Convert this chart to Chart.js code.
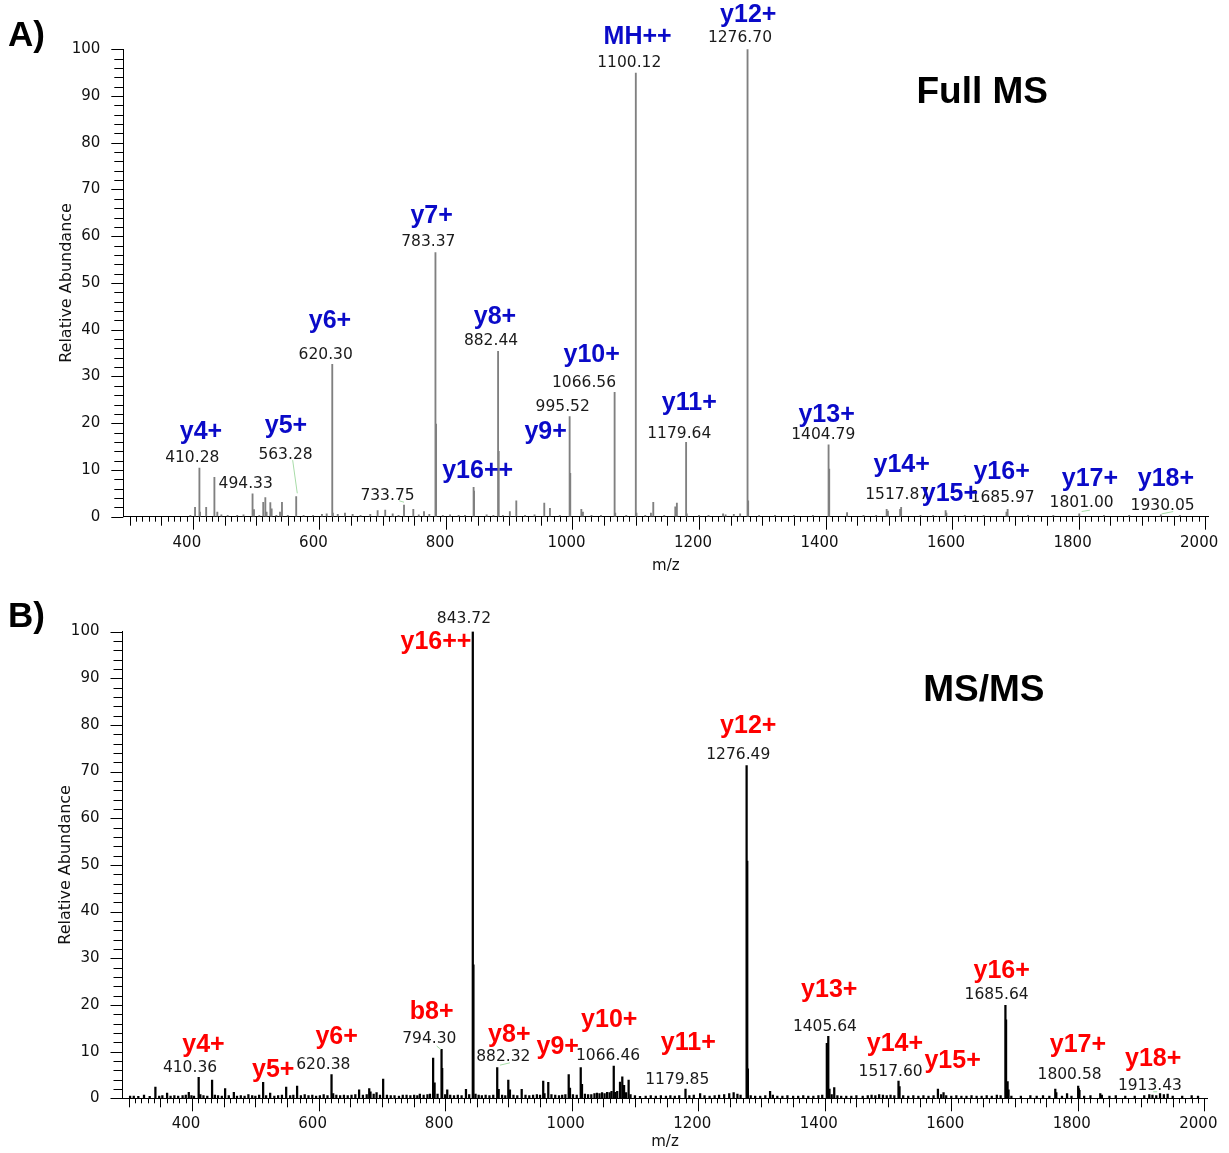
<!DOCTYPE html>
<html>
<head>
<meta charset="utf-8">
<title>Full MS / MS/MS spectra</title>
<script src="https://cdn.jsdelivr.net/npm/chart.js@4.4.1/dist/chart.umd.min.js"></script>
<style>
    html, body { margin: 0; padding: 0; background: #fff; }
    #wrap { position: relative; width: 1229px; height: 1153px; }
    canvas { position: absolute; left: 0; }
    #chartA { top: 0; }
    #chartB { top: 585px; }
</style>
</head>
<body>
<div id="wrap">
    <canvas id="chartA" width="1229" height="585"></canvas>
    <canvas id="chartB" width="1229" height="568"></canvas>
</div>
<script>
// ---- axes ----
const xTickLabels = [400, 600, 800, 1000, 1200, 1400, 1600, 1800, 2000];
const yTickLabels = [0, 10, 20, 30, 40, 50, 60, 70, 80, 90, 100];

// ---- A) Full MS : peaks (m/z, relative abundance) ----
const fullMz = [
    396.0, 403.4, 410.3, 411.3, 421.0, 434.0, 438.6, 445.0, 455.0, 470.0,
    480.0, 494.3, 496.6, 505.0, 511.2, 514.5, 516.5, 522.4, 524.5, 532.0,
    537.7, 540.8, 550.0, 563.3, 575.0, 590.0, 604.0, 611.5, 620.3, 621.3,
    629.0, 640.4, 652.5, 665.0, 680.4, 692.0, 704.0, 715.8, 725.0, 733.7,
    748.4, 757.0, 765.3, 773.7, 783.4, 784.4, 795.0, 806.5, 820.0, 830.0,
    843.7, 844.4, 864.3, 875.0, 882.4, 883.4, 890.0, 901.0, 911.2, 925.0,
    940.0, 955.4, 964.4, 980.0, 995.5, 996.5, 1014.0, 1016.5, 1030.0, 1045.0,
    1066.6, 1067.6, 1085.0, 1100.1, 1101.1, 1115.0, 1124.0, 1127.7, 1145.0, 1162.5,
    1165.0, 1179.6, 1180.6, 1200.0, 1215.0, 1238.0, 1242.0, 1255.0, 1265.0, 1276.7,
    1277.7, 1295.0, 1320.0, 1350.0, 1380.0, 1404.8, 1405.8, 1434.0, 1460.0, 1480.0,
    1496.6, 1498.6, 1517.9, 1519.5, 1550.0, 1570.0, 1589.8, 1591.0, 1620.0, 1650.0,
    1686.0, 1687.8, 1720.0, 1760.0, 1801.0, 1840.0, 1880.0, 1930.0, 1960.0
];
const fullInt = [
    0.3, 2.0, 10.4, 1.0, 2.0, 8.4, 1.0, 0.4, 0.3, 0.3,
    0.4, 4.9, 1.5, 0.3, 3.1, 4.1, 1.0, 3.0, 1.7, 0.3,
    1.0, 3.1, 0.3, 4.3, 0.3, 0.3, 0.5, 0.6, 32.6, 0.8,
    0.5, 0.8, 0.5, 0.3, 0.5, 1.3, 1.4, 0.6, 0.3, 2.5,
    1.6, 0.4, 1.1, 0.5, 56.5, 19.8, 0.3, 0.4, 0.3, 0.3,
    6.3, 5.5, 0.4, 0.3, 35.4, 14.0, 0.3, 1.1, 3.4, 0.3,
    0.4, 2.9, 1.8, 0.3, 21.4, 9.3, 1.6, 1.0, 0.3, 0.3,
    26.6, 0.8, 0.3, 94.9, 0.8, 0.3, 0.8, 3.1, 0.3, 2.1,
    2.9, 15.9, 0.6, 0.3, 0.3, 0.6, 0.4, 0.5, 0.6, 100.0,
    3.4, 0.3, 0.3, 0.3, 0.3, 15.4, 10.2, 0.9, 0.3, 0.3,
    1.6, 1.2, 1.6, 2.0, 0.3, 0.3, 1.3, 0.8, 0.3, 0.3,
    1.0, 1.6, 0.3, 0.3, 0.6, 0.3, 0.3, 0.4, 0.3
];
const fullIons = ['y4+', 'y5+', 'y6+', 'y7+', 'y16++', 'y8+', 'y9+', 'y10+', 'MH++',
    'y11+', 'y12+', 'y13+', 'y14+', 'y15+', 'y16+', 'y17+', 'y18+'];
const fullIonMz = [412.8, 547.2, 616.7, 777.4, 850.1, 877.5, 957.6, 1030.3, 1103.0,
    1184.6, 1277.8, 1401.7, 1520.3, 1596.6, 1678.3, 1817.9, 1938.0];
const fullIonAb = [18.2, 19.3, 41.8, 64.2, 9.7, 42.7, 18.2, 34.5, 102.5,
    24.3, 107.2, 21.7, 11.1, 4.9, 9.5, 8.0, 8.0];
const fullPeakLabels = [410.28, 494.33, 563.28, 620.30, 733.75, 783.37, 882.44, 995.52, 1066.56,
    1100.12, 1179.64, 1276.70, 1404.79, 1517.87, 1685.97, 1801.00, 1930.05];
const fullPeakLabelMz = [399.0, 483.5, 546.4, 609.9, 707.6, 772.1, 871.2, 984.5, 1018.2,
    1089.8, 1168.8, 1264.7, 1396.4, 1513.3, 1679.9, 1804.8, 1932.8];
const fullPeakLabelAb = [12.5, 6.9, 13.3, 34.7, 4.5, 58.8, 37.6, 23.5, 28.5,
    97.1, 17.8, 102.5, 17.4, 4.6, 3.9, 3.0, 2.3];
// green leader lines (start / end)
const fullLeaderMz1 = [557.7, 726.2, 1804.8, 1931.2];
const fullLeaderAb1 = [12.1, 3.4, 1.1, 0.6];
const fullLeaderMz2 = [565.0, 733.7, 1817.9, 1949.5];
const fullLeaderAb2 = [5.0, 3.1, 1.4, 1.1];

// ---- B) MS/MS : peaks (m/z, relative abundance) ----
const msmsMz = [
    302, 307.8, 315, 324, 333, 342, 348, 353, 360.5, 366,
    372, 378, 385, 390, 394.8, 399, 403, 410.4, 413, 418,
    424, 431.6, 436, 441, 447, 452.2, 458, 466, 471, 477,
    483, 489, 495, 500, 506, 512.3, 517, 523.4, 530, 536,
    542, 548.7, 555, 560, 566, 572, 578, 584, 590, 596,
    602, 608, 614, 620.4, 623, 628, 634, 640, 646, 652,
    658, 664, 670, 676, 680, 682, 687, 691.6, 697, 702,
    708, 714, 720, 727, 733, 739, 745, 751, 756, 760,
    766, 772, 776, 781, 783.3, 788, 794.3, 795.3, 800, 803.3,
    808, 814, 820, 826, 832.9, 838, 843.7, 844.7, 848, 853,
    858, 864, 870, 876, 882.3, 884.6, 890, 895, 899.8, 902.4,
    908, 914, 921, 927, 933, 939, 945, 950, 955, 957,
    963, 968, 974, 980, 985, 990, 995.3, 997.3, 1002, 1008,
    1014.3, 1016.3, 1021, 1026, 1031, 1036, 1040, 1044, 1048, 1052,
    1056, 1060, 1063, 1066.5, 1069, 1072, 1076.4, 1080, 1082.8, 1086,
    1090, 1093, 1100, 1108, 1117, 1125, 1133, 1141, 1149, 1156,
    1163, 1170, 1179.9, 1186, 1193, 1203, 1210, 1218, 1226, 1233,
    1241, 1249, 1256, 1262, 1267, 1276.5, 1277.5, 1278.5, 1283, 1290,
    1298, 1306, 1313.6, 1318, 1325, 1333, 1341, 1350, 1358, 1366,
    1374, 1382, 1390, 1396, 1403.3, 1405.6, 1407.5, 1411, 1415, 1420,
    1426, 1434, 1442, 1450, 1460, 1468, 1474, 1480, 1486, 1492,
    1498, 1504, 1510, 1516.6, 1518.2, 1524, 1532, 1540, 1548, 1556,
    1564, 1572, 1578.9, 1584, 1587.8, 1592, 1600, 1608, 1616, 1624,
    1632, 1640, 1648, 1656, 1664, 1672, 1678, 1685.6, 1686.6, 1689,
    1690.5, 1695, 1710, 1725, 1735, 1745, 1755, 1764.4, 1766, 1775,
    1783, 1790, 1800.6, 1801.6, 1802.6, 1810, 1820, 1835.5, 1838, 1850,
    1860, 1875, 1890, 1905, 1913, 1918, 1924, 1930, 1936, 1942,
    1950, 1965, 1980, 1990
];
const msmsInt = [
    0.5, 0.5, 0.4, 0.7, 0.4, 2.4, 0.5, 0.6, 1.1, 0.5,
    0.6, 0.5, 0.6, 0.7, 1.3, 0.6, 0.5, 4.5, 0.8, 0.6,
    0.5, 3.9, 0.7, 0.6, 0.5, 2.1, 0.6, 1.3, 0.5, 0.6,
    0.5, 0.8, 0.6, 0.5, 0.7, 3.4, 0.6, 1.1, 0.5, 0.6,
    0.7, 2.4, 0.6, 0.7, 2.6, 0.6, 0.8, 0.6, 0.7, 0.5,
    0.6, 0.8, 0.6, 5.1, 1.0, 0.7, 0.6, 0.7, 0.6, 0.7,
    0.8, 1.8, 0.7, 0.8, 2.1, 1.4, 0.9, 1.2, 0.7, 4.1,
    0.7, 0.6, 0.6, 0.5, 0.7, 0.7, 0.6, 0.7, 0.6, 0.9,
    0.7, 0.8, 0.9, 8.6, 3.3, 0.9, 10.5, 6.4, 0.8, 1.8,
    0.7, 0.6, 0.7, 0.6, 1.9, 0.8, 100.0, 28.6, 0.9, 0.7,
    0.6, 0.7, 0.6, 0.7, 6.6, 1.9, 0.7, 0.6, 3.9, 1.8,
    0.7, 0.6, 1.9, 0.7, 0.6, 0.7, 0.8, 0.7, 3.7, 1.0,
    3.4, 0.8, 0.7, 0.6, 0.7, 0.8, 5.1, 2.2, 0.8, 0.7,
    6.6, 3.0, 0.9, 0.8, 0.8, 1.0, 1.1, 1.0, 1.2, 1.0,
    1.3, 1.2, 1.5, 6.9, 1.3, 1.5, 3.5, 4.6, 2.8, 1.2,
    3.9, 0.8, 0.6, 0.4, 0.5, 0.6, 0.5, 0.6, 0.5, 0.6,
    0.5, 0.6, 2.0, 0.6, 0.7, 1.0, 0.6, 0.5, 0.6, 0.7,
    0.8, 1.0, 1.2, 0.9, 0.7, 71.3, 50.8, 6.3, 0.6, 0.5,
    0.5, 0.6, 1.5, 0.7, 0.5, 0.5, 0.6, 0.5, 0.5, 0.6,
    0.5, 0.5, 0.6, 0.7, 11.8, 13.3, 2.0, 0.8, 2.3, 0.6,
    0.5, 0.5, 0.5, 0.6, 0.5, 0.6, 0.7, 0.6, 0.8, 0.7,
    0.6, 0.7, 0.6, 3.7, 2.5, 0.6, 0.5, 0.6, 0.5, 0.6,
    0.5, 0.6, 2.0, 0.8, 1.2, 0.6, 0.5, 0.6, 0.5, 0.5,
    0.6, 0.5, 0.5, 0.6, 0.5, 0.7, 0.6, 19.9, 16.8, 3.6,
    1.8, 0.5, 0.5, 0.6, 0.5, 0.6, 0.5, 2.0, 1.2, 0.5,
    1.0, 0.5, 2.6, 2.1, 1.7, 0.5, 0.6, 1.0, 0.7, 0.5,
    0.6, 0.5, 0.5, 0.6, 0.8, 0.7, 0.6, 1.0, 0.8, 0.9,
    0.5, 0.5, 0.6, 0.5
];
const msmsIons = ['y4+', 'y5+', 'y6+', 'b8+', 'y16++', 'y8+', 'y9+', 'y10+', 'y11+',
    'y12+', 'y13+', 'y14+', 'y15+', 'y16+', 'y17+', 'y18+'];
const msmsIonMz = [418.0, 528.3, 628.5, 778.7, 785.5, 901.4, 978.0, 1059.4, 1184.3,
    1279.1, 1407.1, 1511.0, 1602.1, 1679.6, 1800.2, 1919.2];
const msmsIonAb = [11.5, 6.1, 13.1, 18.5, 97.8, 13.6, 11.0, 16.7, 11.8,
    79.8, 23.2, 11.6, 8.0, 27.2, 11.5, 8.3];
const msmsPeakLabels = [410.36, 620.38, 794.30, 843.72, 882.32, 1066.46, 1179.85,
    1276.49, 1405.64, 1517.60, 1685.64, 1800.58, 1913.43];
const msmsPeakLabelMz = [396.7, 607.4, 774.9, 829.7, 891.9, 1057.5, 1166.9,
    1263.3, 1400.3, 1504.2, 1671.7, 1787.0, 1914.0];
const msmsPeakLabelAb = [6.4, 7.2, 12.8, 102.6, 8.9, 9.1, 3.9,
    73.5, 15.2, 5.6, 22.2, 4.9, 2.6];
const msmsLeaderMz1 = [786.6, 886.6, 1919.2];
const msmsLeaderAb1 = [11.2, 7.1, 1.4];
const msmsLeaderMz2 = [792.9, 902.4, 1925.5];
const msmsLeaderAb2 = [10.5, 7.6, 1.4];

const NUM_FONT = '"DejaVu Sans", Verdana, sans-serif';
const BOLD_FONT = '"Liberation Sans", Arial, sans-serif';

// draws axis tick marks, leader lines, ion and m/z labels
function makeDecor(cfg) {
    return {
        id: 'decor_' + cfg.tag,
        afterDatasetsDraw(chart) {
            const { ctx, chartArea: area, scales: { x, y } } = chart;
            ctx.save();

            // tick marks: every 10 (short), 50 (medium), 200 (long) on m/z; every 2 / 10 on abundance
            ctx.strokeStyle = '#000';
            ctx.lineWidth = 1;
            ctx.beginPath();
            for (let v = 300; v <= 2000; v += 10) {
                const px = Math.round(x.getPixelForValue(v)) + 0.5;
                const len = v % 200 === 0 ? 13 : (v % 50 === 0 ? 9 : 5);
                ctx.moveTo(px, area.bottom);
                ctx.lineTo(px, area.bottom + len);
            }
            for (let v = 0; v <= 100; v += 2) {
                const py = Math.round(y.getPixelForValue(v)) + 0.5;
                const len = v % 10 === 0 ? 12 : 9;
                ctx.moveTo(area.left, py);
                ctx.lineTo(area.left - len, py);
            }
            ctx.stroke();

            // leader lines
            ctx.strokeStyle = '#a8dca8';
            ctx.beginPath();
            cfg.leaderMz1.forEach((m, i) => {
                ctx.moveTo(x.getPixelForValue(m), y.getPixelForValue(cfg.leaderAb1[i]));
                ctx.lineTo(x.getPixelForValue(cfg.leaderMz2[i]), y.getPixelForValue(cfg.leaderAb2[i]));
            });
            ctx.stroke();

            ctx.textAlign = 'center';
            ctx.textBaseline = 'middle';

            // m/z values
            ctx.fillStyle = '#1a1a1a';
            ctx.font = '15.5px ' + NUM_FONT;
            cfg.peakLabels.forEach((v, i) => {
                ctx.fillText(v.toFixed(2), x.getPixelForValue(cfg.peakLabelMz[i]), y.getPixelForValue(cfg.peakLabelAb[i]));
            });

            // ion names
            ctx.fillStyle = cfg.ionColor;
            ctx.font = 'bold 25px ' + BOLD_FONT;
            cfg.ions.forEach((name, i) => {
                ctx.fillText(name, x.getPixelForValue(cfg.ionMz[i]), y.getPixelForValue(cfg.ionAb[i]));
            });

            // panel title and tag
            ctx.fillStyle = '#000';
            ctx.font = 'bold 37px ' + BOLD_FONT;
            ctx.fillText(cfg.title, x.getPixelForValue(cfg.titleMz), y.getPixelForValue(cfg.titleAb));
            ctx.textAlign = 'left';
            ctx.font = 'bold 35px ' + BOLD_FONT;
            ctx.fillText(cfg.tag, 8, cfg.tagY);

            ctx.restore();
        }
    };
}

function makeSpectrum(canvasId, cfg) {
    const canvas = document.getElementById(canvasId);
    return new Chart(canvas, {
        type: 'bar',
        data: {
            datasets: [{
                data: cfg.mz.map((m, i) => ({ x: m, y: cfg.intensity[i] })),
                backgroundColor: cfg.barColor,
                borderWidth: 0,
                barThickness: cfg.barWidth
            }]
        },
        options: {
            responsive: false,
            animation: false,
            layout: { padding: { left: 0, top: cfg.top, right: 1229 - cfg.right, bottom: 0 } },
            plugins: { legend: { display: false }, tooltip: { enabled: false } },
            scales: {
                x: {
                    type: 'linear',
                    min: 290,
                    max: 2005,
                    offset: false,
                    afterBuildTicks: (scale) => { scale.ticks = xTickLabels.map(v => ({ value: v })); },
                    afterFit: (scale) => {
                        scale.height = canvas.height - cfg.bottom;
                        scale.paddingLeft = 0;
                        scale.paddingRight = 0;
                    },
                    grid: { display: true, drawOnChartArea: false, drawTicks: false, offset: false },
                    border: { display: true, color: '#000', width: 1 },
                    ticks: {
                        autoSkip: false,
                        maxRotation: 0,
                        padding: 17,
                        labelOffset: -6,
                        color: '#111',
                        font: { family: NUM_FONT, size: 15 },
                        callback: (v) => String(v)
                    },
                    title: {
                        display: true,
                        text: 'm/z',
                        color: '#111',
                        font: { family: NUM_FONT, size: 15 },
                        padding: { top: 0, bottom: cfg.xTitlePad }
                    }
                },
                y: {
                    min: 0,
                    max: 100,
                    afterBuildTicks: (scale) => { scale.ticks = yTickLabels.map(v => ({ value: v })); },
                    afterFit: (scale) => {
                        scale.width = cfg.left;
                        scale.paddingTop = 0;
                        scale.paddingBottom = 0;
                    },
                    grid: { display: true, drawOnChartArea: false, drawTicks: false },
                    border: { display: true, color: '#000', width: 1 },
                    ticks: {
                        autoSkip: false,
                        padding: 23,
                        color: '#111',
                        font: { family: NUM_FONT, size: 15 },
                        callback: (v) => String(v)
                    },
                    title: {
                        display: true,
                        text: 'Relative Abundance',
                        color: '#111',
                        font: { family: NUM_FONT, size: 16 },
                        padding: { top: cfg.yTitlePad, bottom: 0 }
                    }
                }
            }
        },
        plugins: [makeDecor(cfg)]
    });
}

makeSpectrum('chartA', {
    tag: 'A)', tagY: 36,
    title: 'Full MS', titleMz: 1647.7, titleAb: 90.7,
    left: 123.3, right: 1208.3, top: 49.2, bottom: 516.7,
    xTitlePad: 10, yTitlePad: 57,
    mz: fullMz, intensity: fullInt, barColor: '#808080', barWidth: 1.2,
    ions: fullIons, ionMz: fullIonMz, ionAb: fullIonAb, ionColor: '#0a0ac8',
    peakLabels: fullPeakLabels, peakLabelMz: fullPeakLabelMz, peakLabelAb: fullPeakLabelAb,
    leaderMz1: fullLeaderMz1, leaderAb1: fullLeaderAb1, leaderMz2: fullLeaderMz2, leaderAb2: fullLeaderAb2
});

makeSpectrum('chartB', {
    tag: 'B)', tagY: 32,
    title: 'MS/MS', titleMz: 1651.5, titleAb: 87.4,
    left: 122.5, right: 1207.5, top: 46.5, bottom: 513.3,
    xTitlePad: 2, yTitlePad: 56,
    mz: msmsMz, intensity: msmsInt, barColor: '#000000', barWidth: 1.6,
    ions: msmsIons, ionMz: msmsIonMz, ionAb: msmsIonAb, ionColor: '#ff0000',
    peakLabels: msmsPeakLabels, peakLabelMz: msmsPeakLabelMz, peakLabelAb: msmsPeakLabelAb,
    leaderMz1: msmsLeaderMz1, leaderAb1: msmsLeaderAb1, leaderMz2: msmsLeaderMz2, leaderAb2: msmsLeaderAb2
});
</script>
</body>
</html>
